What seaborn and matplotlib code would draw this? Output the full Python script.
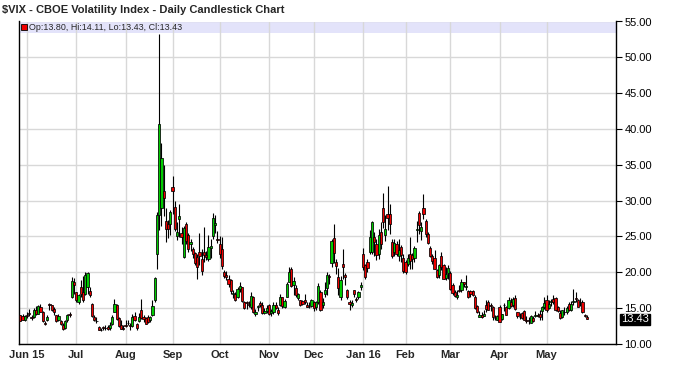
import numpy as np
import pandas as pd
import matplotlib
matplotlib.use("Agg")
import matplotlib.pyplot as plt
import seaborn as sns

# ---------------- data ----------------
holidays = ["2015-07-03", "2015-09-07", "2015-11-26", "2015-12-25", "2016-01-01",
            "2016-01-18", "2016-02-15", "2016-03-25"]
start_date = "2015-05-27"
end_date = "2016-05-26"

opens = [
    # May 15
    14.0, 13.9, 13.3,
    # Jun
    14.0, 14.3, 13.7, 13.7, 14.8, 14.2, 15.2, 14.4, 13.0, 13.4, 15.6, 15.4, 14.9, 14.0, 13.3,
    13.2, 12.7, 12.2, 13.3, 14.2, 16.5, 18.6,
    # Jul
    17.2, 15.8, 17.9, 17.2, 17.0, 18.0, 17.4, 15.6, 13.8, 13.2, 12.4, 12.0, 12.3, 12.3, 12.4,
    12.2, 12.8, 14.5, 15.4, 13.6, 12.7, 12.2,
    # Aug
    12.6, 12.9, 12.6, 12.5, 13.9, 12.8, 13.2, 14.8, 13.7, 13.6, 13.7, 13.3, 14.1, 16.2, 22.6,
    28.0, 29.0, 31.3, 27.2, 26.8, 26.8,
    # Sep
    31.9, 29.1, 25.0, 27.5, 25.5, 22.2, 26.8, 25.2, 24.0, 23.2, 22.7, 22.2, 22.8, 21.9, 22.8,
    22.4, 21.8, 23.4, 25.0, 26.6, 24.7,
    # Oct
    24.0, 23.2, 20.1, 19.6, 19.0, 18.9, 17.0, 17.0, 16.6, 17.7, 17.9, 15.9, 15.9, 15.6, 15.2,
    16.6, 14.2, 15.1, 15.7, 15.4, 14.3, 14.6,
    # Nov
    15.4, 14.3, 14.4, 15.4, 14.8, 15.5, 16.5, 15.2, 16.6, 18.7, 20.4, 18.2, 17.8, 16.4, 16.1,
    16.0, 16.2, 15.5, 15.2, 15.3,
    # Dec
    15.9, 15.1, 15.9, 17.3, 15.4, 17.0, 17.8, 19.5, 21.3, 24.8, 21.4, 19.4, 16.5, 21.2, 19.6,
    17.5, 15.8, 15.5, 17.5, 16.3, 16.5, 18.0,
    # Jan 16
    22.5, 21.0, 21.5, 22.9, 22.9, 25.0, 23.9, 22.5, 25.6, 29.0, 25.2, 28.2, 28.2, 24.3, 22.9,
    24.0, 22.3, 23.5, 22.0,
    # Feb
    21.5, 21.2, 22.5, 22.4, 22.0, 25.9, 28.3, 25.8, 29.0, 27.2, 25.4, 23.4, 22.3, 22.0, 20.3,
    19.6, 22.3, 21.0, 19.2, 19.9,
    # Mar
    19.9, 18.2, 17.3, 16.6, 17.6, 17.5, 18.6, 18.0, 17.4, 17.4, 17.4, 16.5, 15.3, 13.8, 14.0,
    13.9, 15.5, 15.8, 15.5, 15.2, 13.6, 13.4,
    # Apr
    15.2, 13.5, 15.4, 15.2, 15.0, 15.9, 15.5, 16.4, 14.4, 13.8, 14.3, 14.6, 13.3, 13.3, 13.0,
    13.6, 13.9, 14.0, 14.2, 14.6, 15.1,
    # May
    16.2, 15.0, 15.9, 16.3, 16.4, 15.2, 14.3, 13.7, 14.4, 14.5, 15.6, 14.7, 15.8, 16.4, 16.1,
    15.9, 15.9, 14.1, 13.80,
]

highs = [
    14.1, 14.2, 14.0,
    14.5, 14.9, 14.0, 15.0, 15.3, 15.4, 15.6, 14.6, 13.2, 14.0, 15.7, 15.5, 15.2, 14.1, 14.2,
    13.4, 12.9, 13.4, 14.2, 14.4, 19.3, 19.2,
    17.3, 17.0, 18.9, 19.5, 20.0, 20.1, 18.0, 15.7, 14.0, 13.8, 12.5, 12.2, 12.5, 12.6, 12.6,
    13.0, 14.0, 16.3, 15.6, 13.7, 13.3, 12.6,
    13.4, 13.4, 12.9, 14.2, 14.5, 12.9, 14.3, 16.3, 14.1, 13.7, 14.0, 13.9, 16.2, 19.4, 28.4,
    53.29, 38.0, 35.0, 29.0, 27.3, 28.7,
    33.5, 30.0, 27.0, 29.6, 26.3, 26.4, 27.0, 25.5, 24.6, 23.5, 22.9, 22.6, 25.5, 23.2, 26.3,
    23.0, 25.2, 24.6, 28.3, 28.0, 25.7,
    25.0, 24.9, 20.3, 20.2, 19.6, 19.1, 17.5, 17.2, 18.0, 18.6, 18.0, 16.0, 16.0, 16.0, 17.2,
    16.7, 14.9, 15.5, 16.0, 15.8, 15.0, 15.5,
    15.6, 14.9, 15.9, 15.9, 15.2, 17.0, 16.6, 16.3, 18.6, 20.7, 20.7, 19.4, 18.3, 17.1, 16.2,
    16.2, 17.0, 15.8, 15.9, 16.3,
    16.0, 16.0, 18.5, 17.5, 16.4, 18.6, 20.0, 19.8, 24.7, 26.8, 21.9, 20.6, 19.5, 23.3, 19.9,
    17.7, 16.1, 16.2, 17.6, 16.6, 17.4, 18.7,
    23.4, 21.1, 21.9, 25.9, 27.1, 25.6, 24.6, 26.1, 27.0, 31.0, 28.0, 32.1, 29.5, 24.6, 24.7,
    24.4, 24.6, 23.8, 22.6,
    21.7, 22.6, 24.9, 22.7, 23.7, 27.1, 28.6, 27.0, 30.9, 27.4, 25.6, 23.7, 22.6, 23.1, 20.5,
    21.2, 22.9, 21.2, 20.7, 21.0,
    20.2, 18.5, 17.6, 17.5, 18.2, 19.0, 18.7, 19.6, 17.6, 17.5, 17.5, 16.8, 15.5, 14.6, 14.5,
    14.8, 16.2, 16.1, 15.7, 15.3, 14.0, 14.1,
    15.4, 14.2, 15.7, 15.3, 16.6, 16.4, 16.6, 16.8, 14.5, 14.3, 14.4, 14.7, 13.9, 13.7, 14.1,
    13.9, 14.6, 14.3, 14.7, 15.3, 16.6,
    16.8, 16.2, 16.3, 16.9, 16.6, 15.3, 14.7, 14.8, 15.1, 15.3, 15.8, 16.0, 17.7, 17.3, 16.3,
    16.4, 16.1, 14.2, 14.11,
]

lows = [
    13.2, 13.3, 13.2,
    13.6, 13.9, 13.3, 13.6, 14.0, 14.2, 14.4, 13.1, 12.6, 13.2, 14.8, 14.6, 14.0, 13.1, 13.2,
    12.6, 11.9, 12.1, 13.0, 13.7, 16.4, 17.0,
    15.9, 15.6, 16.6, 15.9, 16.9, 17.0, 16.6, 13.8, 13.2, 12.9, 11.9, 11.8, 12.0, 11.9, 11.9,
    12.0, 12.7, 14.4, 13.3, 12.4, 12.1, 11.9,
    12.4, 12.6, 12.0, 12.4, 13.2, 12.0, 13.0, 13.5, 13.1, 12.8, 12.9, 13.1, 13.9, 15.9, 20.4,
    25.9, 26.5, 27.8, 24.2, 24.8, 25.2,
    28.1, 25.8, 24.5, 24.9, 24.0, 22.0, 23.9, 22.9, 23.0, 22.0, 21.0, 19.0, 21.0, 19.6, 21.5,
    21.7, 21.6, 22.0, 24.7, 25.5, 24.1,
    22.0, 20.4, 19.2, 18.9, 17.9, 17.0, 16.4, 16.0, 16.4, 17.2, 15.9, 14.9, 14.9, 15.1, 14.9,
    14.3, 13.9, 14.6, 15.2, 14.2, 14.2, 14.3,
    14.1, 13.9, 14.2, 14.9, 14.1, 15.3, 15.0, 15.0, 16.5, 18.6, 18.0, 16.9, 16.6, 16.1, 15.3,
    15.4, 15.6, 15.1, 15.0, 15.1,
    14.6, 14.8, 15.6, 14.6, 15.0, 16.5, 16.8, 18.4, 20.8, 21.3, 19.8, 16.9, 16.1, 19.0, 18.3,
    16.3, 14.7, 15.2, 16.5, 15.8, 16.3, 17.6,
    20.3, 19.0, 20.1, 22.6, 22.5, 22.3, 21.7, 21.9, 23.2, 26.2, 24.4, 25.9, 25.3, 22.0, 22.3,
    22.3, 21.6, 21.5, 19.9,
    19.7, 20.9, 20.4, 20.5, 21.5, 24.3, 25.3, 24.5, 27.5, 24.9, 23.9, 22.2, 21.1, 20.4, 19.2,
    19.2, 20.3, 19.0, 18.9, 19.0,
    17.6, 16.9, 16.5, 16.3, 17.2, 17.3, 17.9, 17.6, 16.4, 16.6, 16.7, 14.9, 14.3, 13.7, 13.6,
    13.9, 14.5, 14.7, 14.6, 13.4, 13.4, 13.3,
    13.0, 13.4, 14.6, 14.0, 14.9, 15.1, 15.2, 14.8, 13.6, 13.5, 13.5, 13.3, 12.9, 12.8, 12.9,
    13.1, 13.8, 13.7, 13.4, 13.4, 14.9,
    14.5, 14.9, 15.3, 15.6, 14.6, 14.4, 13.5, 13.6, 14.0, 14.2, 14.6, 14.6, 15.5, 15.8, 15.1,
    15.3, 14.3, 13.8, 13.43,
]

closes = [
    13.27, 13.31, 13.84,
    13.97, 14.24, 13.66, 14.71, 14.21, 15.29, 14.47, 13.22, 12.85, 13.78, 15.39, 14.81, 14.50,
    13.19, 13.96, 12.74, 12.11, 13.26, 14.01, 14.02, 18.85, 18.23,
    16.09, 16.79, 17.01, 16.09, 19.66, 19.97, 16.83, 13.90, 13.37, 13.23, 11.95, 11.95, 12.25,
    12.22, 12.12, 12.64, 13.74, 15.60, 13.44, 12.50, 12.13, 12.12,
    12.56, 13.00, 12.51, 13.77, 13.39, 12.23, 13.71, 13.61, 13.49, 12.83, 13.02, 13.79, 15.25,
    19.14, 28.03, 40.74, 36.02, 30.32, 26.10, 26.05, 28.43,
    31.40, 26.09, 25.61, 27.80, 24.90, 26.23, 24.37, 23.20, 24.25, 22.54, 21.35, 20.80, 22.28,
    20.14, 22.44, 22.13, 23.47, 23.62, 27.63, 26.83, 24.50,
    22.55, 20.94, 19.54, 19.40, 18.40, 17.42, 17.08, 16.17, 17.67, 18.03, 16.05, 15.05, 15.75,
    15.41, 16.70, 14.45, 14.46, 15.29, 15.43, 14.33, 14.61, 15.07,
    14.15, 14.54, 15.51, 15.05, 14.33, 16.52, 15.29, 16.06, 18.37, 20.08, 18.16, 18.84, 16.85,
    16.99, 15.47, 15.62, 15.93, 15.19, 15.12, 16.13,
    15.07, 15.90, 18.11, 14.81, 15.84, 17.60, 19.61, 19.34, 24.39, 22.73, 20.95, 17.86, 18.94,
    20.70, 19.34, 16.60, 15.57, 15.74, 16.91, 16.08, 17.29, 18.21,
    20.70, 19.34, 20.59, 24.99, 27.01, 24.30, 22.47, 25.22, 23.95, 27.02, 26.05, 27.59, 26.69,
    22.34, 24.15, 22.50, 23.11, 22.42, 20.20,
    19.98, 21.98, 21.65, 21.84, 23.38, 26.00, 26.54, 26.29, 28.14, 25.40, 24.11, 22.31, 21.64,
    20.53, 19.38, 20.98, 20.72, 19.11, 19.81, 20.55,
    17.70, 17.09, 16.70, 16.86, 17.35, 18.67, 18.34, 18.05, 16.50, 16.92, 16.84, 14.99, 14.44,
    14.02, 13.79, 14.17, 14.94, 14.74, 15.24, 13.82, 13.56, 13.95,
    13.10, 14.12, 15.42, 14.09, 16.16, 15.36, 16.26, 14.85, 13.84, 13.72, 13.62, 13.35, 13.24,
    13.28, 13.95, 13.22, 14.08, 13.96, 13.77, 15.22, 15.70,
    14.68, 15.60, 16.05, 15.91, 14.72, 14.57, 13.63, 14.69, 14.41, 15.04, 14.68, 15.57, 15.95,
    16.33, 15.20, 15.82, 14.42, 13.90, 13.43,
]

month_labels = ["Jun 15", "Jul", "Aug", "Sep", "Oct", "Nov", "Dec", "Jan 16",
                "Feb", "Mar", "Apr", "May"]
y_ticks = [10, 15, 20, 25, 30, 35, 40, 45, 50, 55]
title = "$VIX - CBOE Volatility Index - Daily Candlestick Chart"
legend_text = "Op:13.80, Hi:14.11, Lo:13.43, Cl:13.43"
last_close_label = "13.43"

# ---------------- build frame ----------------
dates = pd.bdate_range(start_date, end_date)
dates = dates[~dates.isin(pd.to_datetime(holidays))]
df = pd.DataFrame({"date": dates, "open": opens, "high": highs, "low": lows, "close": closes})
df["x"] = np.arange(len(df))
df["up"] = df["close"] >= df["open"]
df["bottom"] = df[["open", "close"]].min(axis=1)
df["height"] = (df["close"] - df["open"]).abs().clip(lower=0.07)

month_key = df["date"].dt.to_period("M")
first_idx = df.groupby(month_key)["x"].min()
first_idx = first_idx[first_idx > 0]  # skip partial May 2015

# ---------------- style ----------------
sns.set_style("white")
plt.rcParams["font.family"] = ["Liberation Sans", "DejaVu Sans"]

W, H = 678, 377
fig = plt.figure(figsize=(W / 100, H / 100), dpi=100)
left, right, top, bottom = 19, 616, 21.5, 344
ax = fig.add_axes([left / W, 1 - bottom / H, (right - left) / W, (bottom - top) / H])

GREEN = "#00cc00"
RED = "#ee0000"
GRID = "#d8d8d8"

ax.set_xlim(-0.6, 266)
ax.set_ylim(10, 55)

# legend band
ax.axhspan(53.35, 55, color="#e3e3fa", zorder=0.5, lw=0)

# grid
ax.set_yticks(y_ticks)
ax.set_xticks(first_idx.values)
ax.set_xticklabels(month_labels)
ax.grid(True, color=GRID, lw=1.0, zorder=0)
ax.set_axisbelow(True)

# wicks + bodies
ax.vlines(df["x"], df["low"], df["high"], color="black", lw=0.8, zorder=2)
colors = np.where(df["up"], GREEN, RED)
ax.bar(df["x"], df["height"], bottom=df["bottom"], width=1.0, color=colors,
       edgecolor="black", linewidth=0.55, zorder=3)

# axes styling
ax.yaxis.tick_right()
ax.yaxis.set_label_position("right")
ax.set_yticklabels([f"{v:.2f}" for v in y_ticks])
ax.tick_params(axis="y", which="major", direction="out", length=4, width=0.8,
               colors="black", labelsize=8, pad=2)
ax.tick_params(axis="x", length=0, labelsize=8, pad=4)
for lab in ax.get_xticklabels():
    lab.set_fontweight("bold")
for side in ["left", "right", "bottom"]:
    ax.spines[side].set_color("black")
    ax.spines[side].set_linewidth(1.0)
ax.spines["top"].set_visible(False)

# legend marker & text
ax.plot([1.8], [54.2], marker="s", ms=5, mfc=RED, mec="black", mew=0.6, zorder=5,
        clip_on=False)
ax.text(3.8, 54.2, legend_text, fontsize=6.4, va="center", ha="left", zorder=5)

# last close box
ax.text(1.008, df["close"].iloc[-1], last_close_label, transform=ax.get_yaxis_transform(),
        fontsize=8, color="white", va="center", ha="left",
        bbox=dict(boxstyle="square,pad=0.08", fc="black", ec="black"))

fig.text(2 / W, 1 - 10 / H, title, fontsize=8.0, fontweight="bold",
         va="center", ha="left")

fig.savefig("out.png", dpi=100, facecolor="white")
